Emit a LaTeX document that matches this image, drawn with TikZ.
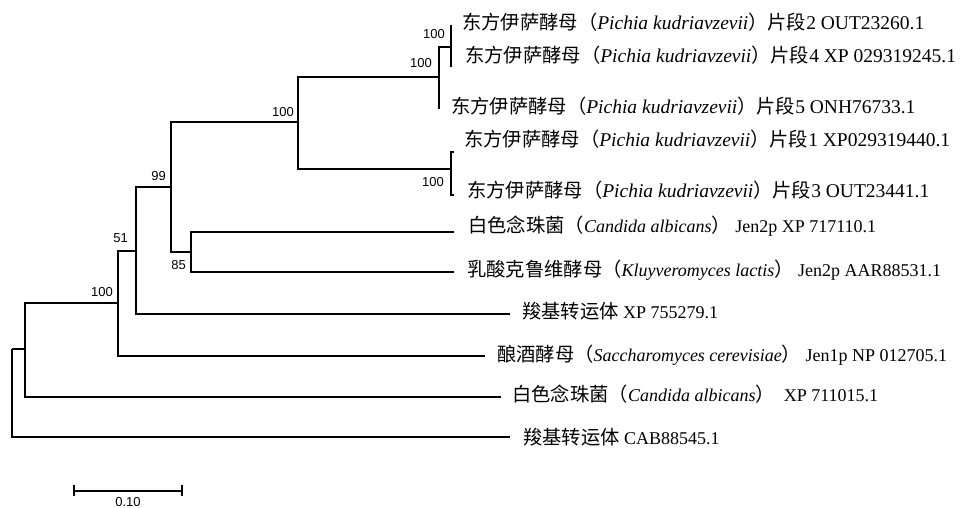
\documentclass[tikz,border=0pt]{standalone}
\usepackage{fontspec}
\setmainfont{Liberation Serif}
\newfontfamily\cjkfont{Noto Sans CJK SC}
\newfontfamily\bootfont{Liberation Sans}
\newcommand{\zhs}[1]{{\cjkfont\fontsize{19.3}{19.3}\selectfont #1}}
\begin{document}
\begin{tikzpicture}[x=1pt,y=-1pt,
  branch/.style={line width=1.3pt, black},
  boot/.style={font=\bootfont\fontsize{13}{13}\selectfont, anchor=east, inner sep=0pt},
  taxon/.style={font=\fontsize{18}{18}\selectfont, anchor=base west, inner sep=0pt},
  pichia/.style={taxon, font=\fontsize{19.5}{19.5}\selectfont}]
\useasboundingbox (0,0) rectangle (975,508);
% internal nodes (x, entry y)
\coordinate (R) at (12,349);
\coordinate (A) at (25,349);
\coordinate (B) at (118,303);
\coordinate (C) at (136,251);
\coordinate (D) at (171,187);
\coordinate (E) at (298,122);
\coordinate (F) at (191,252);
\coordinate (G) at (439,77);
\coordinate (I) at (451,47);
\coordinate (H) at (451,169);
% leaf ends
\coordinate (lp2) at (451,25);
\coordinate (lp4) at (451,67);
\coordinate (lp5) at (439,109);
\coordinate (lp1) at (454,152);
\coordinate (lp3) at (454,195);
\coordinate (lca1) at (454,232);
\coordinate (lkl) at (454,272);
\coordinate (lxp1) at (510,314);
\coordinate (lsc) at (485,356);
\coordinate (lca2) at (501,397);
\coordinate (lcab) at (510,437);
% branches
\draw[branch] (R) |- (A);
\draw[branch] (R) |- (lcab);
\draw[branch] (A) |- (B);
\draw[branch] (A) |- (lca2);
\draw[branch] (B) |- (C);
\draw[branch] (B) |- (lsc);
\draw[branch] (C) |- (D);
\draw[branch] (C) |- (lxp1);
\draw[branch] (D) |- (E);
\draw[branch] (D) |- (F);
\draw[branch] (F) |- (lca1);
\draw[branch] (F) |- (lkl);
\draw[branch] (E) |- (G);
\draw[branch] (E) |- (H);
\draw[branch] (G) |- (I);
\draw[branch] (G) |- (lp5);
\draw[branch] (I) |- (lp2);
\draw[branch] (I) |- (lp4);
\draw[branch] (H) |- (lp1);
\draw[branch] (H) |- (lp3);
% bootstrap values
\node[boot] (bI) at (445,34) {100};
\node[boot] (bG) at (432,63) {100};
\node[boot] (bH) at (444,182) {100};
\node[boot] (bE) at (294,112) {100};
\node[boot] (bD) at (166,176) {99};
\node[boot] (bF) at (186,265) {85};
\node[boot] (bC) at (128,238) {51};
\node[boot] (bB) at (113,292) {100};
% taxa
\node[pichia] (t2) at (462,30) {\zhs{东方伊萨酵母（}\textit{Pichia kudriavzevii}\zhs{）片段}2 OUT23260.1};
\node[pichia] (t4) at (465,63) {\zhs{东方伊萨酵母（}\textit{Pichia kudriavzevii}\zhs{）片段}4 XP 029319245.1};
\node[pichia] (t5) at (451,114) {\zhs{东方伊萨酵母（}\textit{Pichia kudriavzevii}\zhs{）片段}5 ONH76733.1};
\node[pichia] (t1) at (464,147) {\zhs{东方伊萨酵母（}\textit{Pichia kudriavzevii}\zhs{）片段}1 XP029319440.1};
\node[pichia] (t3) at (467,197) {\zhs{东方伊萨酵母（}\textit{Pichia kudriavzevii}\zhs{）片段}3 OUT23441.1};
\node[taxon] (tca1) at (468,233) {\zhs{白色念珠菌（}\textit{Candida albicans}\zhs{）} Jen2p XP 717110.1};
\node[taxon] (tkl) at (467,276) {\zhs{乳酸克鲁维酵母（}\textit{Kluyveromyces lactis}\zhs{）} Jen2p AAR88531.1};
\node[taxon] (txp1) at (522,318) {\zhs{羧基转运体} XP 755279.1};
\node[taxon] (tsc) at (497,361) {\zhs{酿酒酵母（}\textit{Saccharomyces cerevisiae}\zhs{）} Jen1p NP 012705.1};
\node[taxon] (tca2) at (512,401) {\zhs{白色念珠菌（}\textit{Candida albicans}\zhs{）}\ \ XP 711015.1};
\node[taxon] (tcab) at (523,444) {\zhs{羧基转运体} CAB88545.1};
% scale bar
\coordinate (sbL) at (74,491);
\coordinate (sbR) at (182,491);
\draw[line width=1.3pt] (sbL) -- (sbR);
\draw[line width=1.3pt] ([yshift=6pt]sbL) -- ([yshift=-5pt]sbL);
\draw[line width=1.3pt] ([yshift=6pt]sbR) -- ([yshift=-5pt]sbR);
\node[boot, anchor=north] (sbt) at (128,497) {0.10};
\end{tikzpicture}
\end{document}
